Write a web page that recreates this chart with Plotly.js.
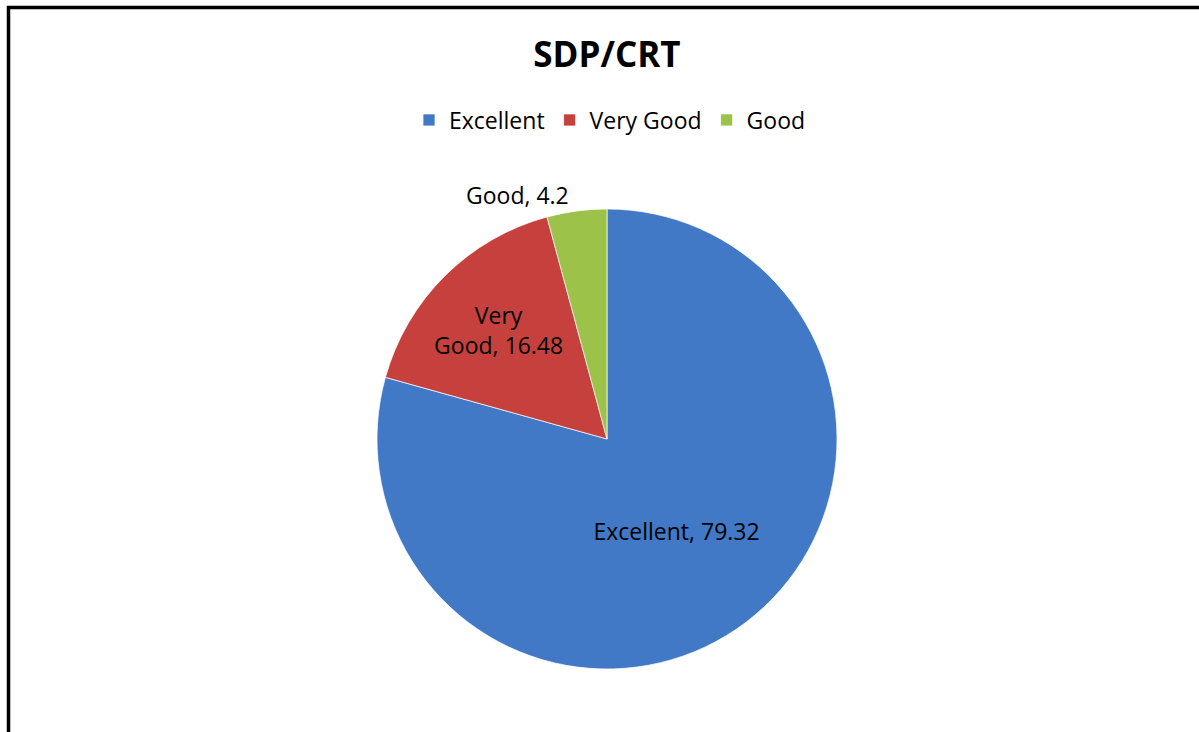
<!DOCTYPE html>
<html>
<head>
<meta charset="utf-8">
<script src="https://cdn.plot.ly/plotly-3.0.1.min.js"></script>
<style>html,body{margin:0;padding:0;background:#fff;} #chart{width:1199px;height:732px;}</style>
</head>
<body>
<div id="chart"></div>
<script>
const categories = ["Excellent", "Very Good", "Good"];
const values = [79.32, 16.48, 4.2];
const labelTexts = ["Excellent, 79.32", "Very<br>Good, 16.48", "Good, 4.2"];
const colors = ["#4279c6", "#c6413d", "#9cc24a"];
const chartTitle = "SDP/CRT";

const W = 1199, H = 732;
const cx = 607, cy = 439, R = 230;
const fam = "Open Sans, sans-serif";

const trace = {
  type: "pie",
  labels: categories,
  values: values,
  text: labelTexts,
  textinfo: "text",
  textposition: ["inside", "inside", "outside"],
  insidetextorientation: "horizontal",
  sort: false,
  direction: "clockwise",
  rotation: 0,
  marker: { colors: colors, line: { color: "rgba(255,255,255,0.7)", width: 1 } },
  textfont: { family: fam, size: 23, color: "#000" },
  insidetextfont: { family: fam, size: 23, color: "#000" },
  outsidetextfont: { family: fam, size: 23, color: "#000" },
  domain: { x: [(cx - R) / W, (cx + R) / W], y: [1 - (cy + R) / H, 1 - (cy - R) / H] },
  hoverinfo: "label+value",
  showlegend: true
};

const layout = {
  width: W, height: H,
  margin: { l: 0, r: 0, t: 0, b: 0 },
  paper_bgcolor: "#fff",
  title: { text: "<b>" + chartTitle + "</b>", x: 607 / W, xanchor: "center", y: 1 - 55 / H, yanchor: "middle",
           font: { family: fam, size: 35, color: "#000" } },
  legend: { orientation: "h", x: 610 / W, xanchor: "center", y: 1 - 120 / H, yanchor: "middle",
            font: { family: fam, size: 23, color: "#000" }, traceorder: "normal", itemwidth: 30 },
  shapes: [{ type: "rect", xref: "paper", yref: "paper", x0: 8.5 / W, x1: 1.02, y0: -0.02, y1: 1 - 7.5 / H,
             line: { color: "#000", width: 3.5 }, fillcolor: "rgba(0,0,0,0)" }]
};

Plotly.newPlot("chart", [trace], layout, { displayModeBar: false, staticPlot: true });
</script>
</body>
</html>
